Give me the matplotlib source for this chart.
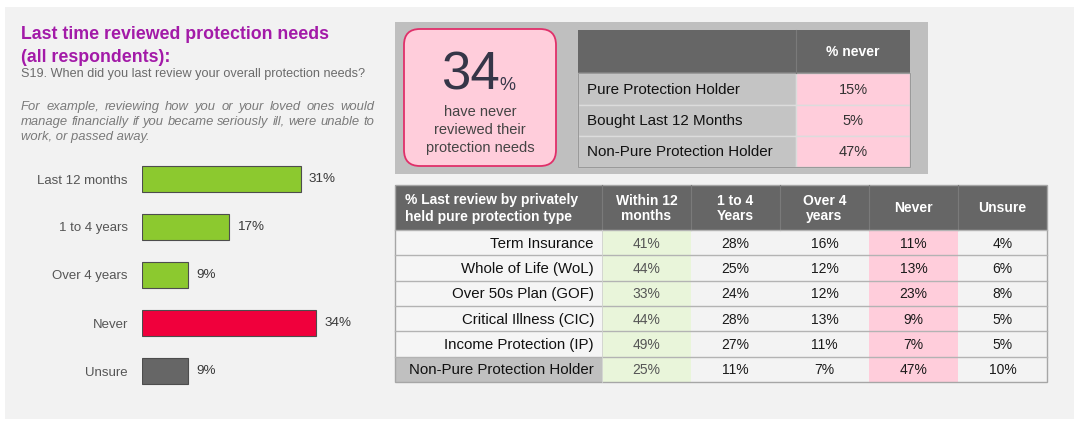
import matplotlib.pyplot as plt
from matplotlib.patches import Rectangle, FancyBboxPatch

plt.rcParams["font.family"] = ["Liberation Sans", "DejaVu Sans"]

# %% data

bar_labels = ["Last 12 months", "1 to 4 years", "Over 4 years", "Never", "Unsure"]
bar_values = [31, 17, 9, 34, 9]

headline_pct = 34
headline_text = "have never\nreviewed their\nprotection needs"

never_groups = ["Pure Protection Holder", "Bought Last 12 Months", "Non-Pure Protection Holder"]
never_values = [15, 5, 47]

type_labels = [
    "Term Insurance",
    "Whole of Life (WoL)",
    "Over 50s Plan (GOF)",
    "Critical Illness (CIC)",
    "Income Protection (IP)",
    "Non-Pure Protection Holder",
]
col_headers = ["Within 12\nmonths", "1 to 4\nYears", "Over 4\nyears", "Never", "Unsure"]
within_12 = [41, 44, 33, 44, 49, 25]
one_to_four = [28, 25, 24, 28, 27, 11]
over_four = [16, 12, 12, 13, 11, 7]
never = [11, 13, 23, 9, 7, 47]
unsure = [4, 6, 8, 5, 5, 10]

title_lines = ["Last time reviewed protection needs", "(all respondents):"]
question = "S19. When did you last review your overall protection needs?"
example_lines = [
    "For example, reviewing how you or your loved ones would",
    "manage financially if you became seriously ill, were unable to",
    "work, or passed away.",
]

# %% colours

PURPLE = "#a31aa8"
GREEN = "#8cc92f"
RED = "#f0003c"
DGRAY = "#666666"
PANEL = "#f2f2f2"
BOX = "#bfbfbf"
PINK = "#ffcddb"
LGREEN = "#e9f5da"

W, H = 1080, 426
fig = plt.figure(figsize=(W / 100, H / 100), dpi=100)
fig.patch.set_facecolor("white")

# overlay axes in pixel units
ax0 = fig.add_axes([0, 0, 1, 1])
ax0.set_xlim(0, W)
ax0.set_ylim(H, 0)
ax0.axis("off")

ax0.add_patch(Rectangle((5, 7), 1069, 412, facecolor=PANEL, edgecolor="none"))

# %% left text block

for k, line in enumerate(title_lines):
    ax0.text(21, 39 + 23 * k, line, color=PURPLE, fontsize=12.8, fontweight="bold",
             va="baseline")
ax0.text(21, 77, question, color="#6b6b6b", fontsize=9.1, va="baseline")

# justified italic paragraph
renderer = fig.canvas.get_renderer()
left, right = 21, 374
for k, line in enumerate(example_lines):
    y = 110 + 15 * k
    words = line.split(" ")
    if k == len(example_lines) - 1:
        ax0.text(left, y, line, color="#7a7a7a", fontsize=9.35, style="italic", va="baseline")
        continue
    objs = [ax0.text(0, y, w, color="#7a7a7a", fontsize=9.35, style="italic", va="baseline")
            for w in words]
    widths = [o.get_window_extent(renderer).width for o in objs]
    gap = (right - left - sum(widths)) / (len(words) - 1)
    x = left
    for o, wd in zip(objs, widths):
        o.set_x(x)
        x += wd + gap

# %% bar chart

axb = fig.add_axes([141.7 / W, (H - 395) / H, 205.6 / W, 240 / H])
axb.patch.set_alpha(0)
colors = [GREEN, GREEN, GREEN, RED, DGRAY]
ypos = list(range(len(bar_values)))
axb.barh(ypos, bar_values, height=0.535, color=colors, edgecolor="#4d4d4d", linewidth=0.8)
axb.set_xlim(0, 40)
axb.set_ylim(4.5, -0.5)
axb.set_xticks([])
axb.set_yticks(ypos, bar_labels)
axb.tick_params(axis="y", length=0, pad=10, labelsize=9.5, labelcolor="#555555")
for s in axb.spines.values():
    s.set_visible(False)
for i, v in enumerate(bar_values):
    axb.text(v + 1.55, i, f"{v}%", va="center", ha="left", fontsize=9.7, color="#3a3a3a")

# %% top-right summary box

ax0.add_patch(Rectangle((395, 22), 533, 152, facecolor=BOX, edgecolor="none"))
ax0.add_patch(FancyBboxPatch((404, 29), 152, 137, boxstyle="round,pad=0,rounding_size=16",
                             facecolor=PINK, edgecolor="#e0306a", linewidth=1.3))
ax0.text(470, 90, f"{headline_pct}", fontsize=38, color="#363648", ha="center", va="baseline")
ax0.text(499, 90, "%", fontsize=13, color="#363648", ha="left", va="baseline")
for k, line in enumerate(headline_text.split("\n")):
    ax0.text(480, 116 + 18 * k, line, fontsize=10.5, color="#444444", ha="center", va="baseline")

# small table
sx0, sx1, sx2 = 578, 796, 910
sy = [30, 73, 104.5, 136, 167]
ax0.add_patch(Rectangle((sx0, sy[0]), sx2 - sx0, sy[1] - sy[0], facecolor=DGRAY, edgecolor="none"))
ax0.plot([sx1, sx1], [sy[0], sy[1]], color="#7a7a7a", lw=0.8)
ax0.text((sx1 + sx2) / 2, (sy[0] + sy[1]) / 2 + 1, "% never", color="white", fontsize=10,
         fontweight="bold", ha="center", va="center")
for i, (g, v) in enumerate(zip(never_groups, never_values)):
    y0, y1 = sy[i + 1], sy[i + 2]
    ax0.add_patch(Rectangle((sx0, y0), sx1 - sx0, y1 - y0, facecolor="#c4c4c4",
                            edgecolor="#dcdcdc", linewidth=1))
    ax0.add_patch(Rectangle((sx1, y0), sx2 - sx1, y1 - y0, facecolor=PINK,
                            edgecolor="#dcdcdc", linewidth=1))
    ax0.text(sx0 + 9, (y0 + y1) / 2 + 1, g, fontsize=10.9, color="#111111", va="center")
    ax0.text((sx1 + sx2) / 2, (y0 + y1) / 2 + 1, f"{v}%", fontsize=10.5, color="#333333",
             ha="center", va="center")
ax0.add_patch(Rectangle((sx0, sy[1]), sx2 - sx0, sy[-1] - sy[1], facecolor="none",
                        edgecolor="#9a9a9a", linewidth=0.8))

# %% big table

tx0, lab_w, col_w = 395, 207, 89
ty0, head_h, row_h = 185, 45, 25.3
cols = [within_12, one_to_four, over_four, never, unsure]
ncols = len(cols)
tx_end = tx0 + lab_w + ncols * col_w
ty_end = ty0 + head_h + len(type_labels) * row_h

ax0.add_patch(Rectangle((tx0, ty0), tx_end - tx0, head_h, facecolor=DGRAY, edgecolor="none"))
ax0.text(tx0 + 10, ty0 + head_h / 2 + 1, "% Last review by privately\nheld pure protection type",
         color="white", fontsize=10, fontweight="bold", va="center", linespacing=1.2)
for j, hdr in enumerate(col_headers):
    cx = tx0 + lab_w + j * col_w
    ax0.plot([cx, cx], [ty0, ty0 + head_h], color="#7a7a7a", lw=0.8)
    ax0.text(cx + col_w / 2, ty0 + head_h / 2 + 1, hdr, color="white", fontsize=10,
             fontweight="bold", ha="center", va="center", linespacing=1.15)

for i, lab in enumerate(type_labels):
    y0 = ty0 + head_h + i * row_h
    last = i == len(type_labels) - 1
    ax0.add_patch(Rectangle((tx0, y0), lab_w, row_h, facecolor="#c0c0c0" if last else "#f5f5f5",
                            edgecolor="none"))
    ax0.text(tx0 + lab_w - 8, y0 + row_h / 2 + 1, lab, fontsize=10.8, color="#111111",
             ha="right", va="center")
    for j, col in enumerate(cols):
        cx = tx0 + lab_w + j * col_w
        fc = LGREEN if j == 0 else PINK if j == 3 else "#f3f3f3"
        ax0.add_patch(Rectangle((cx, y0), col_w, row_h, facecolor=fc, edgecolor="none"))
        ax0.text(cx + col_w / 2, y0 + row_h / 2 + 1, f"{col[i]}%", fontsize=10,
                 color="#555555" if j == 0 else "#1a1a1a", ha="center", va="center")
    ax0.plot([tx0, tx_end], [y0, y0], color="#b3b3b3", lw=1)

ax0.add_patch(Rectangle((tx0, ty0), tx_end - tx0, ty_end - ty0, facecolor="none",
                        edgecolor="#a6a6a6", linewidth=1))
ax0.plot([tx0 + lab_w, tx0 + lab_w], [ty0 + head_h, ty_end], color="#d0d0d0", lw=0.6)

fig.savefig("out.png", dpi=100, facecolor=fig.get_facecolor())
